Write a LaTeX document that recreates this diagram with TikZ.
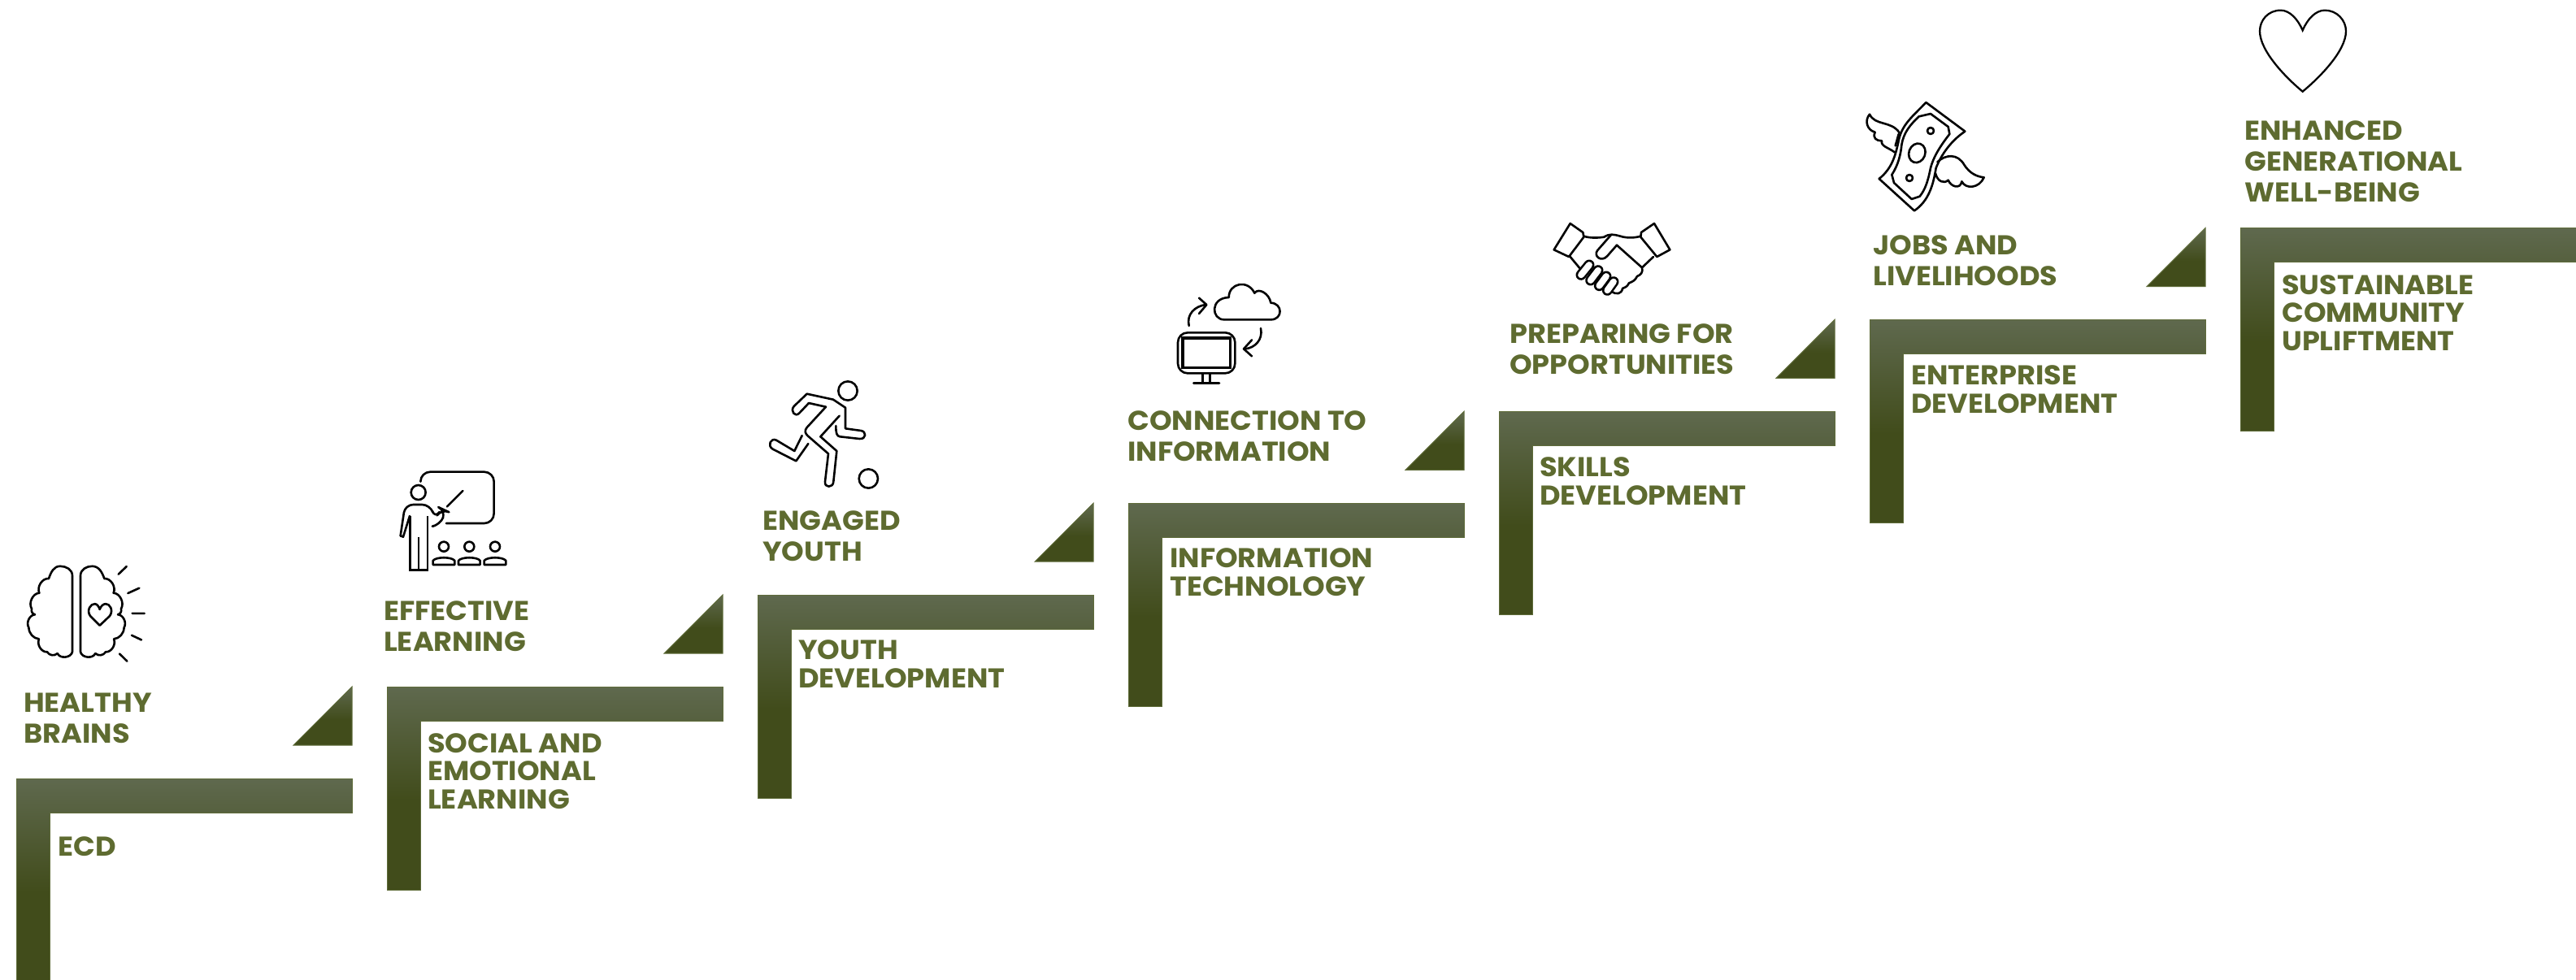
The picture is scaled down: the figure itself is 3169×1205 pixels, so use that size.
\documentclass[tikz,border=0pt]{standalone}
\usepackage{fontspec}
\setmainfont{Poppins}[FakeStretch=1.05]
\definecolor{txtol}{HTML}{5E6B30}
\definecolor{shTop}{HTML}{5F694E}
\definecolor{shBot}{HTML}{414C1B}
\definecolor{edgeol}{HTML}{5F6C3A}
\pgfdeclareverticalshading{stepshade}{100bp}{color(0bp)=(shBot); color(25bp)=(shBot); color(47bp)=(shBot); color(75bp)=(shTop); color(100bp)=(shTop)}
\tikzset{
  upper/.style={anchor=base west,inner sep=0pt,align=left,text=txtol,font=\fontsize{33.5}{38}\selectfont\bfseries},
  lower/.style={anchor=base west,inner sep=0pt,align=left,text=txtol,font=\fontsize{33.5}{34.5}\selectfont\bfseries},
  stepshape/.style={shading=stepshade,draw=edgeol,line width=1pt},
  ico/.style={draw=black,line width=2.6pt,line join=round,line cap=round,fill=none},
  icox/.style={shift={(#1)},scale=1/3}
}
\begin{document}
\begin{tikzpicture}[x=1pt,y=-1pt]
\useasboundingbox (0,0) rectangle (3169,1205);
\clip (0,0) rectangle (3169,1205);
\fill[white] (0,0) rectangle (3169,1205);
% steps and triangles
\foreach \i in {0,...,6}{
  \pgfmathsetmacro{\sx}{20+456*\i}
  \pgfmathsetmacro{\sy}{958-112.9*\i}
  \shade[stepshape] (\sx,\sy) -- ++(413,0) -- ++(0,42) -- ++(-372,0) -- ++(0,208) -- ++(-41,0) -- cycle;
}
\foreach \i in {0,...,5}{
  \pgfmathsetmacro{\sx}{433+456*\i}
  \pgfmathsetmacro{\sy}{845-112.9*\i}
  \shade[stepshape] (\sx,\sy) -- ++(0,72) -- ++(-72,0) -- cycle;
}
% upper labels
\node[upper] (u1) at (29,914) {HEALTHY\\BRAINS};
\node[upper] (u2) at (472,801) {EFFECTIVE\\LEARNING};
\node[upper] (u3) at (938,690) {ENGAGED\\YOUTH};
\node[upper] (u4) at (1387,567) {CONNECTION TO\\INFORMATION};
\node[upper] (u5) at (1857,460) {PREPARING FOR\\OPPORTUNITIES};
\node[upper] (u6) at (2304,351) {JOBS AND\\LIVELIHOODS};
\node[upper] (u7) at (2761,248) {ENHANCED\\GENERATIONAL\\WELL-BEING};
% lower labels
\node[lower] (l1) at (71,1053) {ECD};
\node[lower] (l2) at (526,995) {SOCIAL AND\\EMOTIONAL\\LEARNING};
\node[lower] (l3) at (982,846) {YOUTH\\DEVELOPMENT};
\node[lower] (l4) at (1439,733) {INFORMATION\\TECHNOLOGY};
\node[lower] (l5) at (1894,621) {SKILLS\\DEVELOPMENT};
\node[lower] (l6) at (2351,508) {ENTERPRISE\\DEVELOPMENT};
\node[lower] (l7) at (2807,431) {SUSTAINABLE\\COMMUNITY\\UPLIFTMENT};
% brain
\begin{scope}[shift={(0,650)},xscale=1/3,yscale=1/2.825]
\draw[ico] (267,430) -- (267,165) to[out=90,in=0] (222,132) to[out=180,in=70] (180,175)
  to[bend right=60] (145,225) to[bend right=60] (117,280) to[bend right=50] (129,300)
  to[bend right=60] (106,345) to[bend right=40] (144,385) to[bend right=60] (174,430)
  to[bend right=50] (212,435) to[bend right=70] (267,430);
\draw[ico] (297,430) -- (297,165) to[out=90,in=180] (340,132) to[out=0,in=110] (385,175)
  to[bend left=60] (419,225) to[bend left=60] (447,280) to[bend left=50] (435,300)
  to[bend left=60] (458,345) to[bend left=40] (420,385) to[bend left=60] (390,430)
  to[bend left=50] (352,435) to[bend left=70] (297,430);
\draw[ico] (368,338) -- (333,305) .. controls (318,285) and (335,262) .. (350,263) .. controls (358,263) and (365,272) .. (368,282) .. controls (372,272) and (380,263) .. (390,263) .. controls (405,262) and (420,285) .. (405,305) -- cycle;
\draw[ico] (437,160) -- (467,133) (472,226) -- (514,208) (488,296) -- (533,296) (486,372) -- (522,388) (441,436) -- (469,462);
\end{scope}
% teacher
\begin{scope}[icox={440,540}]
\draw[ico,rounded corners=12pt] (232,155) -- (232,122) -- (503,122) -- (503,312) -- (327,312);
\draw[ico] (224,198) circle[radius=27];
\draw[ico,rounded corners=10pt] (158,358) -- (175,243) -- (268,243) -- (285,295) -- (310,258) -- (325,265) -- (305,318) -- (282,322);
\draw[ico] (158,358) -- (168,362) -- (192,285);
\draw[ico] (330,250) -- (388,192);
\draw[ico,line cap=butt,line join=miter] (193,285) -- (193,485) -- (258,485) -- (258,285);
\draw[ico,line cap=butt] (225,362) -- (225,485);
\foreach \c in {318,412,507}{
  \draw[ico] (\c,398) circle[radius=18];
  \draw[ico] (\c-40,465) -- (\c-40,450) .. controls (\c-30,435) and (\c+30,435) .. (\c+40,450) -- (\c+40,465) -- cycle;
}
\end{scope}
% player
\begin{scope}[icox={920,450}]
\draw[ico] (369,93) circle[radius=35];
\draw[ico] (445,417) circle[radius=35];
\draw[ico] (170,150) -- (218,104) -- (315,125) -- (360,155) -- (360,232) -- (418,240) .. controls (438,243) and (438,272) .. (412,270) -- (340,262) .. controls (328,260) and (325,250) .. (325,222);
\draw[ico] (170,150) .. controls (155,168) and (175,192) .. (190,175) -- (225,138) -- (288,152) -- (218,228) .. controls (208,240) and (212,250) .. (220,258) -- (297,325) -- (285,428) .. controls (282,452) and (315,452) .. (316,428) -- (328,315) -- (268,262) -- (338,185);
\draw[ico] (200,258) -- (172,315) -- (105,275) .. controls (85,265) and (70,295) .. (92,308) -- (178,352) -- (223,288);
\end{scope}
% cloud & monitor
\begin{scope}[icox={1420,330}]
\draw[ico] (258,190) -- (430,190) .. controls (475,190) and (475,130) .. (430,128) .. controls (425,95) and (385,70) .. (370,92) .. controls (345,40) and (275,55) .. (275,108) .. controls (205,110) and (210,190) .. (258,190);
\draw[ico] (128,213) .. controls (118,170) and (150,140) .. (190,135);
\draw[ico] (165,110) -- (193,135) -- (165,168);
\draw[ico] (393,222) .. controls (402,265) and (370,295) .. (335,298);
\draw[ico] (360,265) -- (330,298) -- (360,325);
\draw[ico,rounded corners=12pt] (87,238) rectangle (298,388);
\draw[ico,line width=3.4pt,line join=miter] (105,258) rectangle (280,368);
\draw[ico,line cap=butt] (178,388) -- (178,425) (206,388) -- (206,425);
\draw[ico] (145,425) -- (240,425);
\end{scope}
% handshake
\begin{scope}[icox={1890,250}]
\draw[ico] (125,75) -- (172,108) -- (175,125) -- (120,198) -- (65,172) -- cycle;
\draw[ico] (435,75) -- (387,108) -- (385,125) -- (445,198) -- (493,172) -- cycle;
\draw[ico] (175,122) .. controls (200,130) and (230,128) .. (250,125) .. controls (270,112) and (285,115) .. (310,122) .. controls (335,130) and (365,128) .. (385,122);
\draw[ico] (275,118) -- (225,175) .. controls (210,195) and (240,220) .. (262,195) -- (297,155) -- (390,238) -- (432,198);
\draw[ico] (390,238) .. controls (395,255) and (385,265) .. (372,270) .. controls (365,285) and (355,290) .. (342,295) .. controls (335,310) and (325,312) .. (318,315) .. controls (315,335) and (295,340) .. (277,325);
\draw[ico] (125,198) -- (160,240);
\foreach \a/\b/\c/\d in {165/265/195/228,200/285/228/248,232/305/258/270,262/322/285/290}{
  \draw[line width=13pt,line cap=round,black] (\a,\b) -- (\c,\d);
  \draw[line width=7.8pt,line cap=round,white] (\a,\b) -- (\c,\d);
}
\end{scope}
% money
\begin{scope}[icox={2270,110}]
\draw[ico] (125,330) .. controls (175,290) and (185,240) .. (195,200) .. controls (205,130) and (250,100) .. (298,48) -- (442,155) .. controls (390,190) and (355,240) .. (335,290) .. controls (325,350) and (310,410) .. (255,448) -- cycle;
\draw[ico] (272,100) -- (315,90) -- (380,138) -- (385,165) .. controls (350,210) and (325,250) .. (315,290) .. controls (305,340) and (295,370) .. (275,395) -- (245,405) -- (180,345) -- (172,315) .. controls (195,280) and (205,240) .. (208,205) .. controls (215,160) and (240,130) .. (272,100) -- cycle;
\draw[ico] (265,235) circle[x radius=30,y radius=36,rotate=-20];
\draw[ico] (315,153) circle[radius=12];
\draw[ico] (237,327) circle[radius=12];
\draw[ico] (200,160) .. controls (170,115) and (110,135) .. (90,92) .. controls (70,115) and (80,150) .. (110,158) .. controls (100,180) and (115,190) .. (135,190) .. controls (130,210) and (160,215) .. (182,232) (197,165) -- (185,208);
\draw[ico] (340,268) .. controls (370,240) and (415,235) .. (440,280) .. controls (460,310) and (485,322) .. (512,325) .. controls (495,365) and (445,370) .. (430,340) .. controls (425,370) and (390,360) .. (380,335) .. controls (365,350) and (340,340) .. (333,310);
\end{scope}
% heart
\begin{scope}[icox={2740,0}]
\draw[ico,line width=2.3pt,line cap=butt,line join=miter] (278,112) .. controls (260,70) and (230,38) .. (197,38) .. controls (150,38) and (120,75) .. (120,115) .. controls (120,190) and (220,290) .. (278,338) .. controls (336,290) and (438,190) .. (438,115) .. controls (438,75) and (405,38) .. (360,38) .. controls (326,38) and (296,70) .. (278,112) -- cycle;
\end{scope}
\end{tikzpicture}
\end{document}
